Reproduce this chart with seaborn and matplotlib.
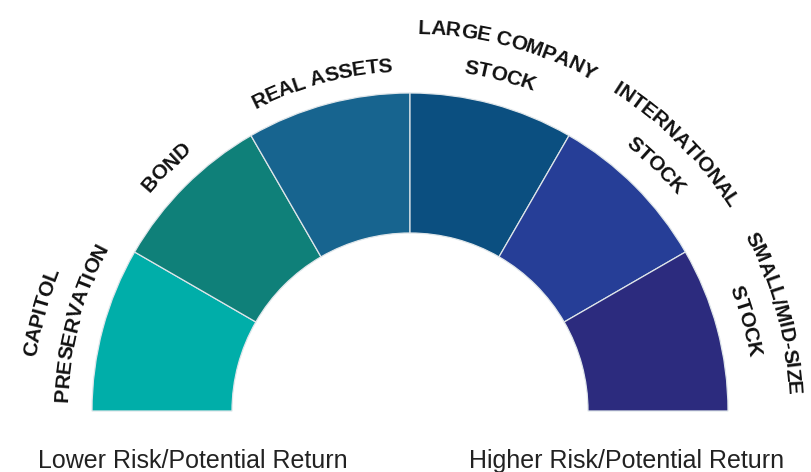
import matplotlib
matplotlib.use('Agg')
import matplotlib.pyplot as plt
import seaborn as sns
import numpy as np

# ========== Data ==========
categories = ['CAPITOL\nPRESERVATION', 'BOND', 'REAL ASSETS',
              'LARGE COMPANY\nSTOCK', 'INTERNATIONAL\nSTOCK', 'SMALL/MID-SIZE\nSTOCK']
shares = [1, 1, 1, 1, 1, 1]
colors = ['#00AEA9', '#0F8079', '#17648F', '#0B4F80', '#263E97', '#2C2B7E']
low_label = 'Lower Risk/Potential Return'
high_label = 'Higher Risk/Potential Return'

sns.set_theme(style='white')
plt.rcParams['font.family'] = ['Liberation Sans', 'DejaVu Sans']

fig = plt.figure(figsize=(8.12, 4.72), dpi=100)
ax = fig.add_axes([0, 0, 1, 1])

cx, cy = 410, 61
r_out, r_in = 318, 178

# half donut: real slices + an invisible lower half
wedges, _ = ax.pie(shares + [sum(shares)], colors=colors + ['white'],
                   startangle=180, counterclock=False, radius=r_out,
                   center=(cx, cy),
                   wedgeprops=dict(width=r_out - r_in, edgecolor='#dfe6ea', linewidth=0.9))
wedges[-1].set_visible(False)

ax.set_xlim(0, 812)
ax.set_ylim(0, 472)
ax.set_aspect('equal')
ax.axis('off')

renderer = fig.canvas.get_renderer()


def curved_text(txt, mid_deg, radius, size=15):
    # measure each char, then lay them along the arc (clockwise)
    widths = []
    for ch in txt:
        t = ax.text(0, 0, ch, fontsize=size, fontweight='bold')
        widths.append(t.get_window_extent(renderer).width)
        t.remove()
    total = sum(widths)
    ang = np.deg2rad(mid_deg) + total / 2 / radius
    for ch, w in zip(txt, widths):
        a = ang - w / 2 / radius
        x = cx + radius * np.cos(a)
        y = cy + radius * np.sin(a)
        ax.text(x, y, ch, fontsize=size, fontweight='bold', color='#111111',
                rotation=np.rad2deg(a) - 90, rotation_mode='anchor',
                ha='center', va='center_baseline')
        ang -= w / radius


n = len(categories)
for i, lab in enumerate(categories):
    mid = 180 - (i + 0.5) * 180 / n
    lines = lab.split('\n')
    if len(lines) == 1:
        curved_text(lines[0], mid, 347)
    else:
        curved_text(lines[0], mid, 385)
        curved_text(lines[1], mid, 350)

ax.text(193, 4, low_label, fontsize=18, ha='center', va='baseline',
        color='#222222')
ax.text(627, 4, high_label, fontsize=18, ha='center', va='baseline',
        color='#222222')

fig.savefig('out.png', dpi=100)
